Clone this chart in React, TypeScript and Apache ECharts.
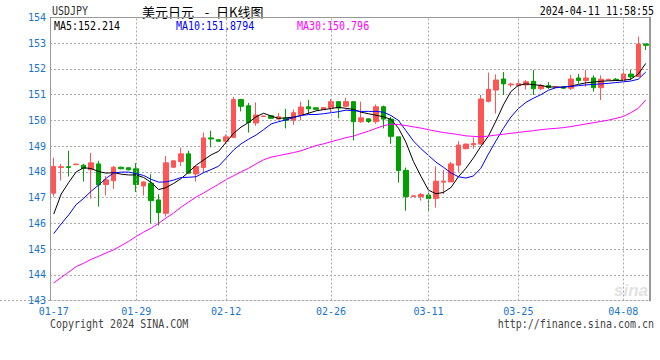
import React, { useEffect, useRef } from "react";
import * as echarts from "echarts";

const dates = [
  "01-17","01-18","01-19","01-20","01-22","01-23","01-24","01-25","01-26","01-27",
  "01-28","01-29","01-30","01-31","02-01","02-02","02-03","02-05","02-06","02-07",
  "02-08","02-09","02-10","02-12","02-13","02-14","02-15","02-16","02-17","02-18",
  "02-19","02-20","02-21","02-22","02-23","02-24","02-25","02-26","02-27","02-28",
  "02-29","03-01","03-02","03-03","03-04","03-05","03-06","03-07","03-08","03-09",
  "03-11","03-12","03-13","03-14","03-15","03-16","03-18","03-19","03-20","03-21",
  "03-22","03-23","03-25","03-26","03-27","03-28","03-29","03-30","03-31","04-01",
  "04-02","04-03","04-04","04-05","04-06","04-07","04-08","04-09","04-10","04-11"
];

const opens = [
  147.17,148.17,148.2,148.28,148.26,148.08,148.31,147.51,147.66,148.18,
  148.16,148.12,147.45,147.56,146.91,146.39,148.18,148.4,148.7,147.92,
  148.17,149.32,149.25,149.19,149.34,150.81,150.57,149.9,150.15,150.18,
  150.05,150.09,150.01,150.22,150.53,150.49,150.42,150.48,150.73,150.55,
  150.73,149.95,150.06,149.95,150.53,150.05,149.36,148.06,147.04,147.04,
  147.1,146.96,147.6,147.61,148.26,148.9,149.05,149.08,150.74,151.18,
  151.61,151.38,151.35,151.38,151.52,151.23,151.36,151.28,151.3,151.25,
  151.65,151.55,151.65,151.27,151.58,151.6,151.57,151.8,151.7,152.97
];
const closes = [
  148.21,148.2,148.17,148.3,148.13,148.35,147.49,147.69,148.18,148.12,
  148.08,147.51,147.61,146.88,146.42,148.35,148.43,148.7,147.95,148.21,
  149.32,149.28,149.19,149.36,150.81,150.55,149.92,150.21,150.17,150.08,
  150.14,150.0,150.3,150.52,150.45,150.43,150.5,150.73,150.48,150.73,
  149.95,150.1,149.96,150.53,150.05,149.38,148.05,147.04,147.07,147.12,
  146.96,147.64,147.64,148.31,149.04,149.08,149.1,150.83,151.21,151.57,
  151.42,151.41,151.43,151.5,151.23,151.36,151.28,151.3,151.25,151.61,
  151.55,151.65,151.27,151.6,151.6,151.58,151.8,151.69,152.97,152.92
];
const lows = [
  147.04,147.66,147.82,148.27,147.62,146.96,146.65,147.08,147.34,148.1,
  148.06,147.22,147.08,146.0,145.91,146.26,148.16,148.23,147.94,147.62,
  147.95,148.96,149.18,149.09,149.33,150.35,149.53,149.79,150.14,150.07,
  150.04,149.69,149.83,150.0,150.25,150.42,150.41,150.33,150.08,150.54,
  149.22,149.9,149.9,149.87,149.69,149.09,147.58,146.49,147.03,146.88,
  146.49,146.61,147.14,147.6,148.0,148.88,148.9,149.07,150.7,150.27,
  150.99,151.29,151.0,151.2,150.99,151.18,151.22,151.26,151.23,151.18,
  151.43,151.31,151.12,150.79,151.57,151.54,151.57,151.56,151.7,152.74
];
const highs = [
  148.55,148.31,148.82,148.32,148.31,148.74,148.43,147.84,148.23,148.2,
  148.17,148.34,147.62,147.91,147.13,148.62,148.44,148.94,148.82,148.22,
  149.53,149.6,149.26,149.45,150.91,150.84,150.68,150.7,150.18,150.19,
  150.29,150.45,150.42,150.73,150.8,150.5,150.51,150.83,150.74,150.88,
  150.74,150.73,150.07,150.62,150.58,150.13,149.37,148.17,147.08,147.18,
  147.19,148.21,148.08,148.39,149.19,149.1,149.34,150.99,151.86,151.79,
  151.88,151.47,151.57,151.57,151.96,151.42,151.49,151.31,151.32,151.77,
  151.81,151.96,151.75,151.75,151.61,151.65,151.96,151.96,153.26,152.98
];

const ma5 = [
  146.36,147.14,147.59,148.0,148.16,148.13,148.01,147.95,147.97,147.91,
  147.88,147.88,147.78,147.59,147.31,147.39,147.55,147.74,147.99,148.26,
  148.46,148.66,148.8,149.15,149.5,149.74,149.92,150.14,150.28,150.17,
  150.08,150.1,150.13,150.19,150.28,150.37,150.42,150.46,150.51,150.47,
  150.43,150.32,150.26,150.2,150.14,150.04,149.7,149.15,148.4,147.83,
  147.29,147.15,147.2,147.39,147.81,148.14,148.54,148.99,149.39,149.97,
  150.6,151.12,151.36,151.42,151.39,151.36,151.3,151.3,151.29,151.33,
  151.4,151.46,151.49,151.52,151.54,151.55,151.56,151.6,151.8,152.214
];
const ma10 = [
  145.6,145.98,146.33,146.73,146.97,147.25,147.49,147.75,147.96,147.99,
  147.99,147.93,147.86,147.71,147.6,147.61,147.68,147.78,147.79,147.81,
  147.97,148.09,148.22,148.53,148.85,149.09,149.27,149.43,149.64,149.86,
  149.95,150.02,150.11,150.19,150.23,150.23,150.26,150.3,150.34,150.4,
  150.38,150.35,150.35,150.35,150.32,150.19,150.0,149.6,149.2,148.9,
  148.64,148.38,148.18,147.96,147.81,147.76,147.84,148.14,148.69,149.2,
  149.69,150.13,150.46,150.7,150.86,151.0,151.17,151.27,151.3,151.32,
  151.35,151.38,151.4,151.42,151.44,151.47,151.5,151.53,151.6,151.8794
];
const ma30 = [
  143.68,143.9,144.1,144.32,144.45,144.6,144.72,144.85,144.97,145.13,
  145.3,145.49,145.66,145.81,146.0,146.21,146.4,146.63,146.83,147.02,
  147.18,147.35,147.52,147.7,147.85,148.0,148.14,148.31,148.47,148.57,
  148.63,148.69,148.75,148.82,148.92,149.02,149.09,149.17,149.25,149.33,
  149.39,149.49,149.58,149.69,149.79,149.86,149.84,149.8,149.75,149.7,
  149.64,149.58,149.53,149.49,149.45,149.4,149.38,149.36,149.39,149.43,
  149.46,149.5,149.53,149.57,149.6,149.64,149.67,149.69,149.72,149.76,
  149.81,149.86,149.91,149.96,150.01,150.08,150.15,150.3,150.47,150.796
];

const tickDates = ["01-17", "01-29", "02-12", "02-26", "03-11", "03-25", "04-08"];
const yMin = 143;
const yMax = 154;
const yStep = 1;

const symbolName = "USDJPY";
const titleParts = ["美元日元", "-", "日K线图"];
const timestamp = "2024-04-11 11:58:55";
const copyright = "Copyright 2024 SINA.COM";
const siteUrl = "http://finance.sina.com.cn";

const UP = "#ff5555";
const DOWN = "#00a000";
const BLUE = "#1874cd";
const MONO = '"DejaVu Sans Mono", "Liberation Mono", monospace';
const GRID = "#aaaaaa";

export default function App() {
  const ref = useRef<HTMLDivElement>(null);
  useEffect(() => {
    if (!ref.current) return;
    const chart = echarts.init(ref.current, null, { renderer: "svg" });
    const candles = opens.map((o, i) => [o, closes[i], lows[i], highs[i]]);
    const tickIdx = new Set(tickDates.map((d) => dates.indexOf(d)));
    const last = (a: number[]) => String(a[a.length - 1]);
    const monoText = (text: string, x: number, y: number, fill: string, align = "left") => ({
      type: "text",
      x,
      y,
      scaleX: 0.833,
      style: {
        text,
        font: `12px ${MONO}`,
        fill,
        textAlign: align,
        textVerticalAlign: "middle",
      },
      silent: true,
    });
    chart.setOption({
      animation: false,
      backgroundColor: "#ffffff",
      grid: { left: 50, right: 10.5, top: 17.5, bottom: 59.5, containLabel: false },
      xAxis: [
        {
          type: "category",
          data: dates,
          boundaryGap: true,
          axisLine: { show: true, lineStyle: { color: GRID, type: [2, 2] } },
          axisTick: { show: false },
          axisLabel: {
            interval: (i: number) => tickIdx.has(i),
            color: BLUE,
            fontFamily: MONO,
            fontSize: 10,
            margin: 6,
          },
          splitLine: { show: false },
        },
        {
          type: "category",
          data: dates,
          position: "top",
          axisLine: { show: true, lineStyle: { color: "#999999" } },
          axisTick: { show: false },
          axisLabel: { show: false },
          splitLine: { show: false },
        },
      ],
      yAxis: [
        {
          type: "value",
          min: yMin,
          max: yMax,
          interval: yStep,
          axisLine: { show: true, lineStyle: { color: "#999999" } },
          axisTick: { show: false },
          axisLabel: {
            color: BLUE,
            fontFamily: MONO,
            fontSize: 10,
            margin: 4,
            padding: [0, 0, 3, 0],
          },
          splitLine: { show: true, lineStyle: { color: GRID, type: [2, 2] } },
        },
        {
          type: "value",
          position: "right",
          min: yMin,
          max: yMax,
          interval: yStep,
          axisLine: { show: true, lineStyle: { color: "#999999", width: 2 } },
          axisTick: { show: false },
          axisLabel: { show: false },
          splitLine: { show: false },
        },
      ],
      series: [
        {
          type: "candlestick",
          data: candles,
          barWidth: 5,
          itemStyle: {
            color: UP,
            color0: DOWN,
            borderColor: UP,
            borderColor0: DOWN,
            borderWidth: 1,
          },
          markLine: {
            silent: true,
            symbol: ["none", "none"],
            label: { show: false },
            lineStyle: { color: GRID, type: [2, 2], width: 1 },
            data: tickDates.slice(1).map((d) => ({ xAxis: d })),
          },
        },
        {
          type: "line",
          data: ma5,
          symbol: "none",
          lineStyle: { color: "#000000", width: 1 },
          itemStyle: { color: "#000000" },
        },
        {
          type: "line",
          data: ma10,
          symbol: "none",
          lineStyle: { color: "#0000ff", width: 1 },
          itemStyle: { color: "#0000ff" },
        },
        {
          type: "line",
          data: ma30,
          symbol: "none",
          lineStyle: { color: "#ff00ff", width: 1 },
          itemStyle: { color: "#ff00ff" },
        },
      ],
      graphic: [
        monoText(symbolName, 52, 11, "#333333"),
        {
          type: "text",
          x: 142,
          y: 11,
          style: { text: titleParts[0], font: '13px "Noto Sans CJK SC"', fill: "#000", textVerticalAlign: "middle" },
        },
        {
          type: "text",
          x: 207,
          y: 11,
          style: { text: titleParts[1], font: '13px "Noto Sans CJK SC"', fill: "#000", textAlign: "center", textVerticalAlign: "middle" },
        },
        {
          type: "text",
          x: 216,
          y: 11,
          style: { text: titleParts[2], font: '13px "Noto Sans CJK SC"', fill: "#000", textVerticalAlign: "middle" },
        },
        monoText(timestamp, 654, 11, "#000000", "right"),
        monoText("MA5:" + last(ma5), 54, 26, "#000000"),
        monoText("MA10:" + last(ma10), 176, 26, "#0000ff"),
        monoText("MA30:" + last(ma30), 297, 26, "#ff00ff"),
        monoText(copyright, 50, 324, "#444444"),
        monoText(siteUrl, 654, 324, "#444444", "right"),
        {
          type: "text",
          x: 648,
          y: 290,
          style: { text: "sina", font: 'italic bold 17px "Liberation Sans"', fill: "#e2e2e2", textAlign: "right", textVerticalAlign: "middle" },
          silent: true,
        },
        {
          type: "line",
          shape: { x1: 0, y1: 300.5, x2: 50, y2: 300.5 },
          style: { stroke: GRID, lineDash: [2, 2] },
          silent: true,
        },
      ],
    });
    return () => chart.dispose();
  }, []);
  return (
    <div
      ref={ref}
      style={{ position: "absolute", left: 0, top: 0, width: 660, height: 360 }}
    />
  );
}
